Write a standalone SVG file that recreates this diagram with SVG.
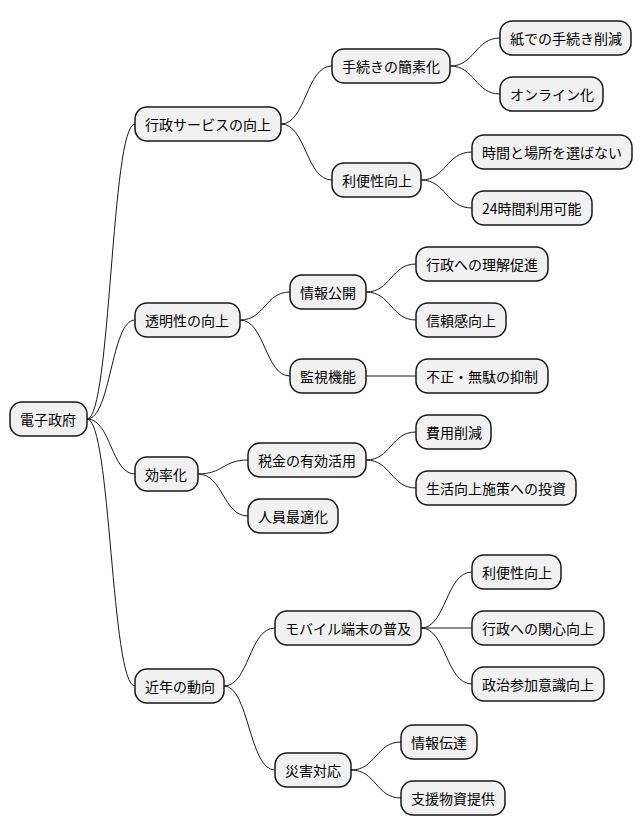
<svg xmlns="http://www.w3.org/2000/svg" width="642" height="837" viewBox="0 0 642 837">
<style>
rect{fill:#F1F1F1;stroke:#181818;stroke-width:1.5}
text{font-family:"Noto Sans CJK JP","Noto Sans",sans-serif;font-size:14px;fill:#000;dominant-baseline:central}
path{fill:none;stroke:#181818;stroke-width:1}
</style>
<rect width="642" height="837" style="fill:#fff;stroke:none"/>
<g id="connectors">
<path d="M87,419 C111,419 111,124 135,124"/>
<path d="M87,419 C111,419 111,320 135,320"/>
<path d="M87,419 C111,419 111,474 135,474"/>
<path d="M87,419 C111,419 111,686 135,686"/>
<path d="M281,124 C306,124 306,66 332,66"/>
<path d="M281,124 C306,124 306,180 332,180"/>
<path d="M450,66 C475,66 475,38 500,38"/>
<path d="M450,66 C475,66 475,94 500,94"/>
<path d="M421,180 C446,180 446,152 472,152"/>
<path d="M421,180 C446,180 446,208 472,208"/>
<path d="M240,320 C265,320 265,292 290,292"/>
<path d="M240,320 C265,320 265,376 290,376"/>
<path d="M366,292 C391,292 391,264 416,264"/>
<path d="M366,292 C391,292 391,320 416,320"/>
<path d="M366,376 L416,376"/>
<path d="M198,474 C223,474 223,460 248,460"/>
<path d="M198,474 C223,474 223,516 248,516"/>
<path d="M366,460 C391,460 391,432 416,432"/>
<path d="M366,460 C391,460 391,488 416,488"/>
<path d="M224,686 C249,686 249,628 275,628"/>
<path d="M224,686 C249,686 249,770 275,770"/>
<path d="M421,628 C446,628 446,572 472,572"/>
<path d="M421,628 L472,628"/>
<path d="M421,628 C446,628 446,684 472,684"/>
<path d="M351,770 C376,770 376,742 401,742"/>
<path d="M351,770 C376,770 376,798 401,798"/>
</g>
<g id="n0"><rect x="10" y="402" width="77" height="34" rx="12"/><text x="20" y="419">電子政府</text></g>
<g id="n1"><rect x="135" y="107" width="146" height="34" rx="12"/><text x="145" y="124">行政サービスの向上</text></g>
<g id="n2"><rect x="332" y="49" width="118" height="34" rx="12"/><text x="342" y="66">手続きの簡素化</text></g>
<g id="n3"><rect x="500" y="21" width="131" height="34" rx="12"/><text x="510" y="38">紙での手続き削減</text></g>
<g id="n4"><rect x="500" y="77" width="103" height="34" rx="12"/><text x="510" y="94">オンライン化</text></g>
<g id="n5"><rect x="332" y="163" width="89" height="34" rx="12"/><text x="342" y="180">利便性向上</text></g>
<g id="n6"><rect x="472" y="135" width="160" height="34" rx="12"/><text x="482" y="152">時間と場所を選ばない</text></g>
<g id="n7"><rect x="472" y="191" width="120" height="34" rx="12"/><text x="482" y="208">24時間利用可能</text></g>
<g id="n8"><rect x="135" y="303" width="105" height="34" rx="12"/><text x="145" y="320">透明性の向上</text></g>
<g id="n9"><rect x="290" y="275" width="76" height="34" rx="12"/><text x="300" y="292">情報公開</text></g>
<g id="n10"><rect x="416" y="247" width="132" height="34" rx="12"/><text x="426" y="264">行政への理解促進</text></g>
<g id="n11"><rect x="416" y="303" width="90" height="34" rx="12"/><text x="426" y="320">信頼感向上</text></g>
<g id="n12"><rect x="290" y="359" width="76" height="34" rx="12"/><text x="300" y="376">監視機能</text></g>
<g id="n13"><rect x="416" y="359" width="132" height="34" rx="12"/><text x="426" y="376">不正・無駄の抑制</text></g>
<g id="n14"><rect x="135" y="457" width="63" height="34" rx="12"/><text x="145" y="474">効率化</text></g>
<g id="n15"><rect x="248" y="443" width="118" height="34" rx="12"/><text x="258" y="460">税金の有効活用</text></g>
<g id="n16"><rect x="416" y="415" width="75" height="34" rx="12"/><text x="426" y="432">費用削減</text></g>
<g id="n17"><rect x="416" y="471" width="160" height="34" rx="12"/><text x="426" y="488">生活向上施策への投資</text></g>
<g id="n18"><rect x="248" y="499" width="90" height="34" rx="12"/><text x="258" y="516">人員最適化</text></g>
<g id="n19"><rect x="135" y="669" width="89" height="34" rx="12"/><text x="145" y="686">近年の動向</text></g>
<g id="n20"><rect x="275" y="611" width="146" height="34" rx="12"/><text x="285" y="628">モバイル端末の普及</text></g>
<g id="n21"><rect x="472" y="555" width="89" height="34" rx="12"/><text x="482" y="572">利便性向上</text></g>
<g id="n22"><rect x="472" y="611" width="132" height="34" rx="12"/><text x="482" y="628">行政への関心向上</text></g>
<g id="n23"><rect x="472" y="667" width="132" height="34" rx="12"/><text x="482" y="684">政治参加意識向上</text></g>
<g id="n24"><rect x="275" y="753" width="76" height="34" rx="12"/><text x="285" y="770">災害対応</text></g>
<g id="n25"><rect x="401" y="725" width="76" height="34" rx="12"/><text x="411" y="742">情報伝達</text></g>
<g id="n26"><rect x="401" y="781" width="104" height="34" rx="12"/><text x="411" y="798">支援物資提供</text></g>
</svg>
